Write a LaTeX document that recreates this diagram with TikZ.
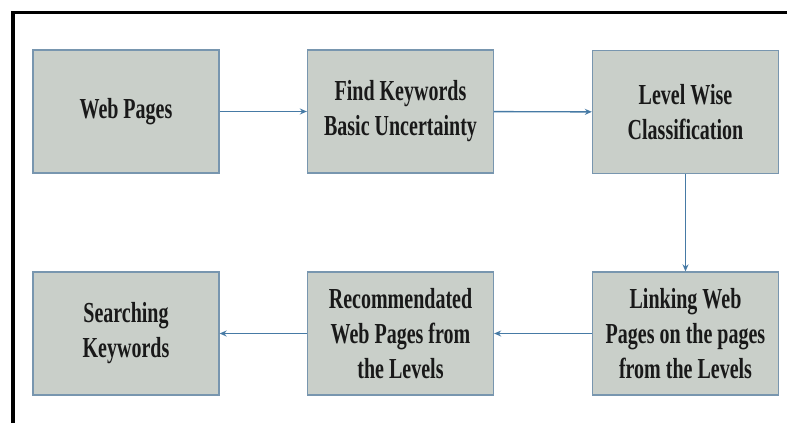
\documentclass[tikz,border=0pt]{standalone}
\usepackage{fontspec}
\newfontfamily\boxfont{Liberation Serif Bold}[FakeStretch=0.69]
\usetikzlibrary{arrows.meta}
\definecolor{boxfill}{RGB}{201,207,201}
\definecolor{boxedge}{RGB}{120,150,175}
\definecolor{arrowcol}{RGB}{70,122,165}
\definecolor{txtcol}{RGB}{25,25,25}
\tikzset{
  stepbox/.style={rectangle, draw=boxedge, line width=1.3pt, fill=boxfill,
    minimum width=186pt, minimum height=123pt, inner sep=0pt, align=center,
    text=txtcol, font=\boxfont\fontsize{29}{35}\selectfont},
  flow/.style={draw=arrowcol, line width=1.4pt, -{Stealth[length=7pt,width=6pt]}},
  frameline/.style={draw=black, line width=3.5pt}
}
\begin{document}
\begin{tikzpicture}[x=1pt,y=-1pt]
\useasboundingbox (0,0) rectangle (787,423);
\fill[white] (0,0) rectangle (787,423);
\draw[frameline] (13,423) -- (13,12.5) -- (787,12.5);
\node[stepbox] (web) at (126,111.5) {Web Pages};
\node[stepbox] (find) at (400.5,111.5) {Find Keywords\\Basic Uncertainty};
\node[stepbox] (level) at (685.5,112) {Level Wise\\Classification};
\node[stepbox] (search) at (126,333.5) {Searching\\Keywords};
\node[stepbox] (recom) at (400.5,333.5) {Recommendated\\Web Pages from\\the Levels};
\node[stepbox] (link) at (685.5,333.5) {Linking Web\\Pages on the pages\\from the Levels};
\draw[flow] (web) -- (find);
\draw[flow] (find) -- (level);
\draw[flow] (level) -- (link);
\draw[flow] (link) -- (recom);
\draw[flow] (recom) -- (search);
\end{tikzpicture}
\end{document}
